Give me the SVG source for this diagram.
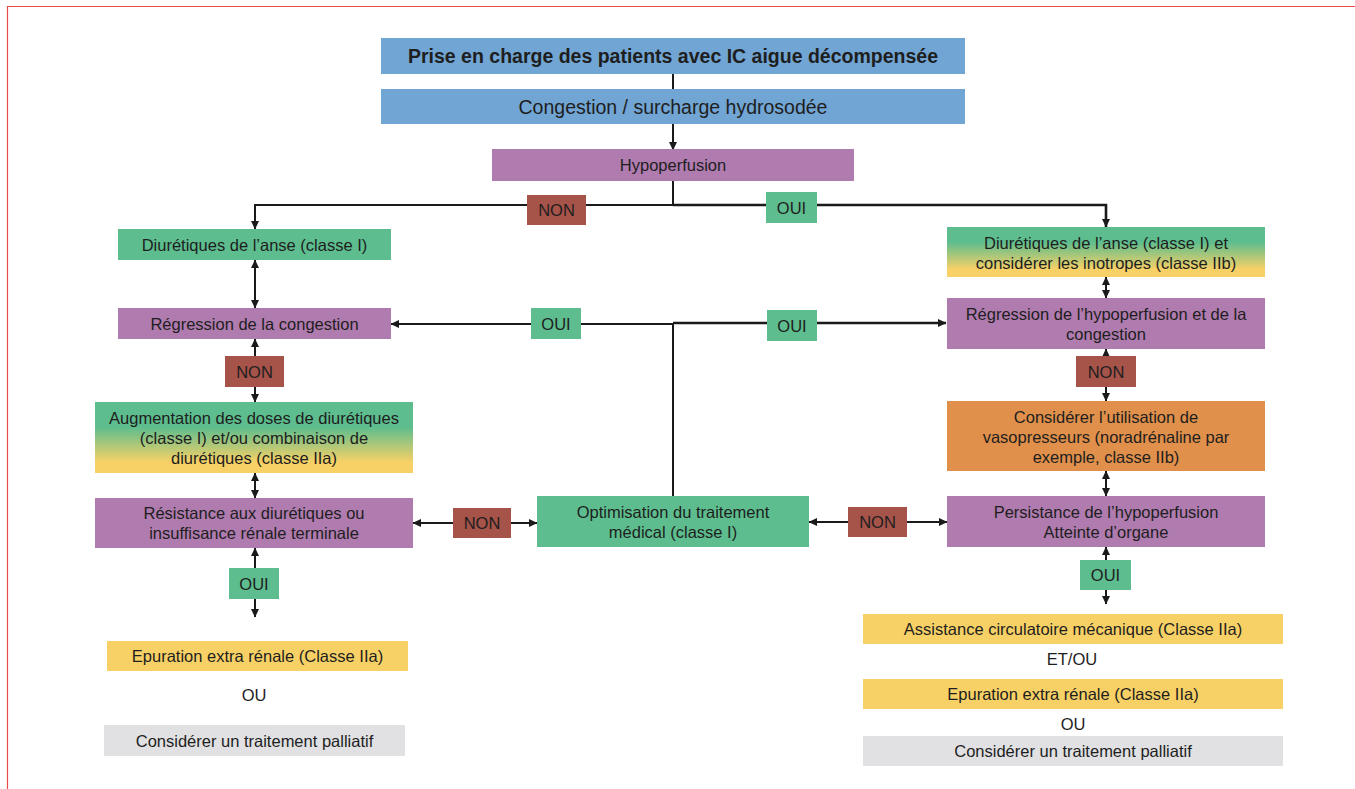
<svg xmlns="http://www.w3.org/2000/svg" width="1355" height="789" viewBox="0 0 1355 789">
<defs>
<style>
text{font-family:"Liberation Sans",Arial,sans-serif;fill:#1e1e1e;text-anchor:middle;dominant-baseline:central}
.t{font-size:16.5px}
.big{font-size:19.5px}
.blue{fill:#71a5d3}
.pur{fill:#b07bae}
.grn{fill:#5dbd8e}
.non{fill:#a6534a}
.yel{fill:#f8d166}
.org{fill:#e0904b}
.gry{fill:#e1e1e3}
.ln{stroke:#1a1a1a;stroke-width:2;fill:none}
.lnb{stroke:#1a1a1a;stroke-width:2.6;fill:none}
</style>
<linearGradient id="g1" x1="0" y1="0" x2="0" y2="1">
<stop offset="0" stop-color="#5dbd8e"/><stop offset="0.35" stop-color="#5dbd8e"/><stop offset="0.85" stop-color="#f8d166"/><stop offset="1" stop-color="#f8d166"/>
</linearGradient>
<linearGradient id="g2" x1="0" y1="0" x2="0" y2="1">
<stop offset="0" stop-color="#5dbd8e"/><stop offset="0.3" stop-color="#5dbd8e"/><stop offset="0.85" stop-color="#f8d166"/><stop offset="1" stop-color="#f8d166"/>
</linearGradient>
<marker id="ah" markerUnits="userSpaceOnUse" markerWidth="9" markerHeight="9" refX="8" refY="4.5" orient="auto-start-reverse" viewBox="0 0 9 9">
<path d="M0,0.5 L8.5,4.5 L0,8.5 z" fill="#1a1a1a"/>
</marker>
</defs>
<rect width="1355" height="789" fill="#ffffff"/>
<path d="M1360,6.5 H7.5 V795" fill="none" stroke="#e84a4a" stroke-width="1.2"/>

<g id="connectors">
<line class="ln" x1="673" y1="73" x2="673" y2="90"/>
<line class="ln" x1="673" y1="124" x2="673" y2="150" marker-end="url(#ah)"/>
<path class="ln" d="M673,181 V205 H255 V229" marker-end="url(#ah)"/>
<path class="lnb" d="M673,205 H1106 V227" marker-end="url(#ah)"/>
<line class="ln" x1="255" y1="260" x2="255" y2="308" marker-start="url(#ah)" marker-end="url(#ah)"/>
<line class="ln" x1="255" y1="339" x2="255" y2="402" marker-start="url(#ah)" marker-end="url(#ah)"/>
<line class="ln" x1="255" y1="473" x2="255" y2="498" marker-start="url(#ah)" marker-end="url(#ah)"/>
<line class="ln" x1="255" y1="548" x2="255" y2="617" marker-start="url(#ah)" marker-end="url(#ah)"/>
<path class="ln" d="M673,496 V324 H391" marker-end="url(#ah)"/>
<path class="lnb" d="M673,323 H946" marker-end="url(#ah)"/>
<line class="ln" x1="413" y1="523" x2="537" y2="523" marker-start="url(#ah)" marker-end="url(#ah)"/>
<line class="ln" x1="809" y1="522" x2="947" y2="522" marker-start="url(#ah)" marker-end="url(#ah)"/>
<line class="ln" x1="1106" y1="277" x2="1106" y2="298" marker-start="url(#ah)" marker-end="url(#ah)"/>
<line class="ln" x1="1106" y1="349" x2="1106" y2="401" marker-start="url(#ah)" marker-end="url(#ah)"/>
<line class="ln" x1="1106" y1="471" x2="1106" y2="496" marker-start="url(#ah)" marker-end="url(#ah)"/>
<line class="ln" x1="1106" y1="547" x2="1106" y2="604" marker-start="url(#ah)" marker-end="url(#ah)"/>
</g>

<g id="labels">
<g id="lbl-non-top"><rect class="non" x="527" y="195" width="59" height="30"/><text class="t" x="556.5" y="210">NON</text></g>
<g id="lbl-oui-top"><rect class="grn" x="766" y="192" width="51" height="31"/><text class="t" x="791.5" y="207.5">OUI</text></g>
<g id="lbl-non-left"><rect class="non" x="225" y="356" width="59" height="31"/><text class="t" x="254.5" y="371.5">NON</text></g>
<g id="lbl-oui-midleft"><rect class="grn" x="531" y="308" width="50" height="31"/><text class="t" x="556" y="323.5">OUI</text></g>
<g id="lbl-oui-midright"><rect class="grn" x="767" y="310" width="50" height="31"/><text class="t" x="792" y="325.5">OUI</text></g>
<g id="lbl-non-right"><rect class="non" x="1076" y="356" width="60" height="31"/><text class="t" x="1106" y="371.5">NON</text></g>
<g id="lbl-non-botleft"><rect class="non" x="453" y="508" width="58" height="30"/><text class="t" x="482" y="523">NON</text></g>
<g id="lbl-non-botright"><rect class="non" x="848" y="507" width="59" height="30"/><text class="t" x="877.5" y="522">NON</text></g>
<g id="lbl-oui-botleft"><rect class="grn" x="229" y="568" width="50" height="31"/><text class="t" x="254" y="583.5">OUI</text></g>
<g id="lbl-oui-botright"><rect class="grn" x="1080" y="560" width="51" height="30"/><text class="t" x="1105.5" y="575">OUI</text></g>
</g>

<g id="n-title"><rect class="blue" x="381" y="38" width="584" height="36"/><text class="big" font-weight="bold" x="673" y="56">Prise en charge des patients avec IC aigue décompensée</text></g>
<g id="n-congestion"><rect class="blue" x="381" y="89" width="584" height="35"/><text class="big" x="673" y="106.5">Congestion / surcharge hydrosodée</text></g>
<g id="n-hypo"><rect class="pur" x="492" y="149" width="362" height="32"/><text class="t" x="673" y="165">Hypoperfusion</text></g>

<g id="n-diur-left"><rect class="grn" x="118" y="229" width="273" height="31"/><text class="t" x="254.5" y="244.5">Diurétiques de l’anse (classe I)</text></g>
<g id="n-regr-left"><rect class="pur" x="118" y="308" width="273" height="31"/><text class="t" x="254.5" y="323.5">Régression de la congestion</text></g>
<g id="n-augm"><rect fill="url(#g1)" x="95" y="402" width="318" height="71"/>
<text class="t" x="254" y="418">Augmentation des doses de diurétiques</text>
<text class="t" x="254" y="438">(classe I) et/ou combinaison de</text>
<text class="t" x="254" y="458">diurétiques (classe IIa)</text></g>
<g id="n-resist"><rect class="pur" x="95" y="498" width="318" height="50"/>
<text class="t" x="254" y="513">Résistance aux diurétiques ou</text>
<text class="t" x="254" y="533">insuffisance rénale terminale</text></g>
<g id="n-optim"><rect class="grn" x="537" y="496" width="272" height="51"/>
<text class="t" x="673" y="511.5">Optimisation du traitement</text>
<text class="t" x="673" y="531.5">médical (classe I)</text></g>
<g id="n-epur-left"><rect class="yel" x="107" y="641" width="301" height="30"/><text class="t" x="257.5" y="656">Epuration extra rénale (Classe IIa)</text></g>
<g id="n-ou-left"><text class="t" font-size="15" x="254" y="695">OU</text></g>
<g id="n-pall-left"><rect class="gry" x="104" y="725" width="301" height="31"/><text class="t" x="254.5" y="740.5">Considérer un traitement palliatif</text></g>

<g id="n-diur-right"><rect fill="url(#g2)" x="947" y="227" width="318" height="50"/>
<text class="t" x="1106" y="243">Diurétiques de l’anse (classe I) et</text>
<text class="t" x="1106" y="263">considérer les inotropes (classe IIb)</text></g>
<g id="n-regr-right"><rect class="pur" x="947" y="298" width="318" height="51"/>
<text class="t" x="1106" y="314">Régression de l’hypoperfusion et de la</text>
<text class="t" x="1106" y="334">congestion</text></g>
<g id="n-vaso"><rect class="org" x="947" y="401" width="318" height="70"/>
<text class="t" x="1106" y="417">Considérer l’utilisation de</text>
<text class="t" x="1106" y="437">vasopresseurs (noradrénaline par</text>
<text class="t" x="1106" y="457">exemple, classe IIb)</text></g>
<g id="n-persist"><rect class="pur" x="947" y="496" width="318" height="51"/>
<text class="t" x="1106" y="512">Persistance de l’hypoperfusion</text>
<text class="t" x="1106" y="532">Atteinte d’organe</text></g>
<g id="n-assist"><rect class="yel" x="863" y="614" width="420" height="30"/><text class="t" x="1073" y="629">Assistance circulatoire mécanique (Classe IIa)</text></g>
<g id="n-etou"><text class="t" font-size="15" x="1072" y="659">ET/OU</text></g>
<g id="n-epur-right"><rect class="yel" x="863" y="679" width="420" height="30"/><text class="t" x="1073" y="694">Epuration extra rénale (Classe IIa)</text></g>
<g id="n-ou-right"><text class="t" font-size="15" x="1073" y="724">OU</text></g>
<g id="n-pall-right"><rect class="gry" x="863" y="736" width="420" height="30"/><text class="t" x="1073" y="751">Considérer un traitement palliatif</text></g>
</svg>
